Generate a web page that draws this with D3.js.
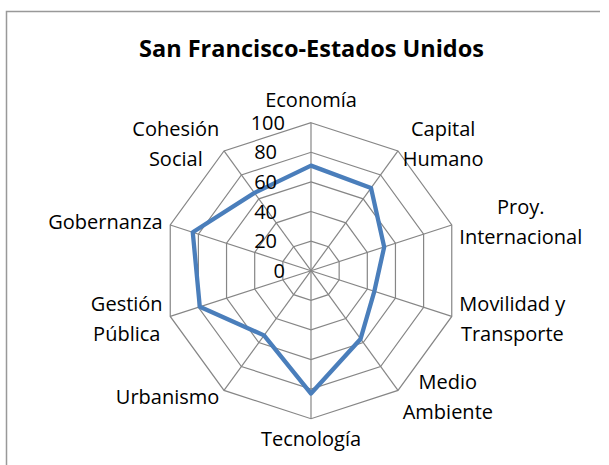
<!DOCTYPE html>
<html>
<head>
<meta charset="utf-8">
<script src="https://cdn.jsdelivr.net/npm/d3@7"></script>
<style>
  body { margin: 0; background: #fff; }
  svg { display: block; font-family: "Open Sans", sans-serif; }
</style>
</head>
<body>
<svg id="chart" width="609" height="465"></svg>
<script>
const title = 'San Francisco-Estados Unidos';
// each category may wrap over several lines
const categories = [
  ['Economía'],
  ['Capital', 'Humano'],
  ['Proy.', 'Internacional'],
  ['Movilidad y', 'Transporte'],
  ['Medio', 'Ambiente'],
  ['Tecnología'],
  ['Urbanismo'],
  ['Gestión', 'Pública'],
  ['Gobernanza'],
  ['Cohesión', 'Social']
];
const values = [71, 69, 52, 45, 57, 83, 54, 79, 84, 65];
const ticks = [0, 20, 40, 60, 80, 100];

const cx = 311, cy = 270.7, radius = 148;
const lineH = 30;

const svg = d3.select('#chart');

// frame (only top and left edges show in the picture)
svg.append('path')
  .attr('d', 'M6.5,465 L6.5,11.5 L600,11.5')
  .attr('fill', 'none')
  .attr('stroke', '#999')
  .attr('stroke-width', 1.5);

svg.append('text')
  .attr('x', 311.5)
  .attr('y', 57)
  .attr('text-anchor', 'middle')
  .attr('font-weight', 'bold')
  .attr('font-size', 23.5)
  .text(title);

const r = d3.scaleLinear().domain([0, 100]).range([0, radius]);
const angle = d3.scaleLinear().domain([0, categories.length]).range([0, 2 * Math.PI]);

const g = svg.append('g').attr('transform', `translate(${cx},${cy})`);

// rings
const ring = d3.lineRadial()
  .angle((d, i) => angle(i))
  .curve(d3.curveLinearClosed);

g.selectAll('.ring')
  .data(ticks.slice(1))
  .enter().append('path')
  .attr('d', t => ring.radius(r(t))(categories))
  .attr('fill', 'none')
  .attr('stroke', '#868686')
  .attr('stroke-width', 1.2);

// spokes
g.selectAll('.spoke')
  .data(categories)
  .enter().append('line')
  .attr('x1', 0).attr('y1', 0)
  .attr('x2', (d, i) => r(100) * Math.sin(angle(i)))
  .attr('y2', (d, i) => -r(100) * Math.cos(angle(i)))
  .attr('stroke', '#868686')
  .attr('stroke-width', 1.2);

// series
const series = d3.lineRadial()
  .angle((d, i) => angle(i))
  .radius(d => r(d))
  .curve(d3.curveLinearClosed);

g.append('path')
  .attr('d', series(values))
  .attr('fill', 'none')
  .attr('stroke', '#4a7ebb')
  .attr('stroke-width', 4.3)
  .attr('stroke-linejoin', 'round');

// tick labels along the top spoke
g.selectAll('.tick')
  .data(ticks)
  .enter().append('text')
  .attr('x', t => String(t).length === 2 ? -34 : -26)
  .attr('y', t => -r(t) + 7)
  .attr('text-anchor', 'end')
  .attr('font-size', 20)
  .attr('fill', '#000')
  .text(t => t);

// category labels
categories.forEach((lines, i) => {
  const a = angle(i);
  const s = Math.sin(a), c = Math.cos(a);
  const ax = (r(100) + 8) * s;
  const ay = -(r(100) + 8) * c;
  const lbl = g.append('text').attr('font-size', 20).attr('text-anchor', 'middle');
  const spans = lines.map(l => lbl.append('tspan').text(l));
  const w = d3.max(spans, sp => sp.node().getComputedTextLength());
  let bx = ax;
  if (s > 0.1) bx = ax + w / 2;
  else if (s < -0.1) bx = ax - w / 2;
  let y0;
  if (Math.abs(s) < 0.1 && c > 0) y0 = ay - 8 - (lines.length - 1) * lineH;
  else if (Math.abs(s) < 0.1) y0 = ay + 19.5;
  else y0 = ay - (lines.length - 1) * lineH / 2 + 7;
  spans.forEach((sp, k) => sp.attr('x', bx).attr('y', y0 + k * lineH));
});
</script>
</body>
</html>
